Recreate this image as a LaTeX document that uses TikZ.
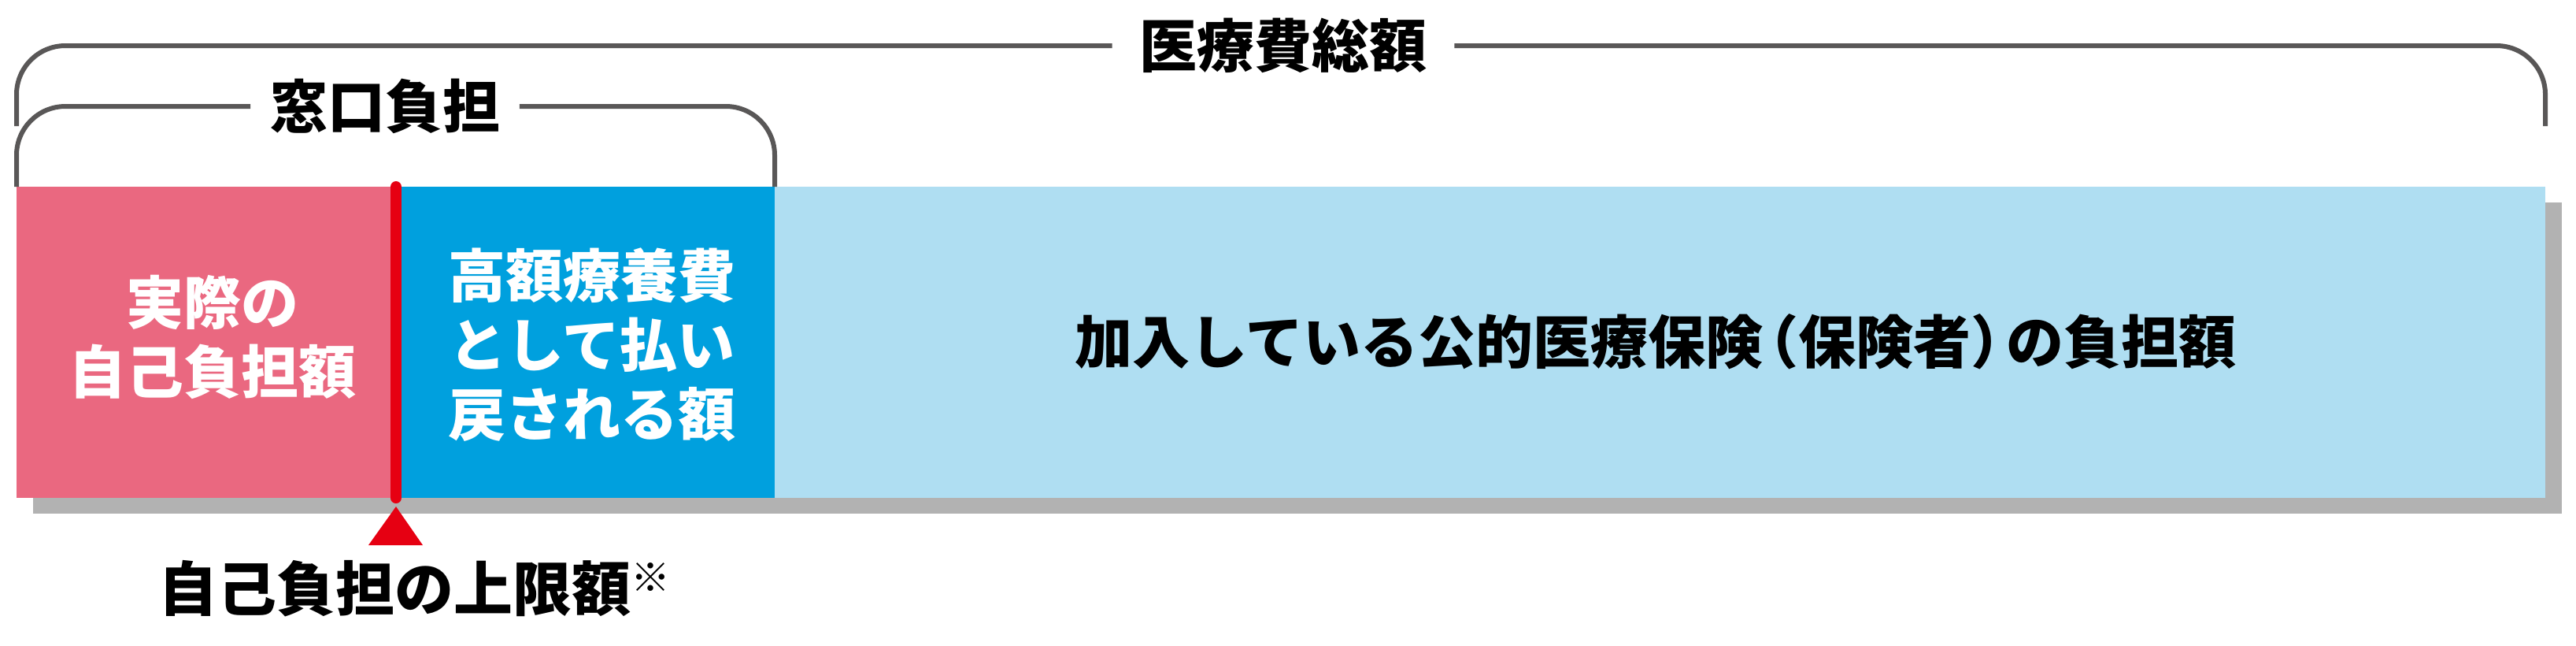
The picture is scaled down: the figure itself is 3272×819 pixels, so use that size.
\documentclass[tikz,border=0pt]{standalone}
\usepackage{fontspec}
\setmainfont{Noto Sans CJK JP}
\definecolor{pinkc}{RGB}{234,104,128}
\definecolor{bluec}{RGB}{0,160,222}
\definecolor{lbluec}{RGB}{175,222,242}
\definecolor{shadowgray}{RGB}{178,178,178}
\definecolor{redc}{RGB}{230,0,18}
\definecolor{brkgray}{RGB}{89,87,87}
\newcommand{\lpar}{\makebox[0.62em][r]{（}}
\newcommand{\rpar}{\makebox[0.62em][l]{）}}
\begin{document}
\begin{tikzpicture}[x=0.25pt,y=-0.25pt,
  brk/.style={draw=brkgray,line width=1.5pt,rounded corners=15.5pt},
  jtxt/.style={font=\bfseries\fontsize{18.25pt}{22pt}\selectfont,inner ysep=0pt,align=center},
  ttl/.style={jtxt,text=black},
  wtxt/.style={jtxt,text=white,inner xsep=0pt},
  bar/.style={anchor=north west,inner sep=0pt,outer sep=0pt,minimum height=98.75pt}]
\useasboundingbox (0,0) rectangle (3272,819);
% shadow
\fill[shadowgray] (42,257) rectangle (3254,652);
% bars
\node[bar,fill=pinkc,minimum width=120.5pt] (self) at (21,237) {};
\node[bar,fill=bluec,minimum width=120.25pt] (refund) at (503,237) {};
\node[bar,fill=lbluec,minimum width=562.25pt] (insurer) at (984,237) {};
% texts in bars
\node[wtxt] (selftxt) at (270,428) {実際の\\自己負担額};
\node[wtxt] (refundtxt) at (752,438) {高額療養費\\として払い\\戻される額};
\node[ttl,inner xsep=0pt] (insurertxt) at (2103,434) {加入している公的医療保険\lpar 保険者\rpar の負担額};
% limit marker
\draw[redc,line width=3.5pt,line cap=round] (self.north east) -- (self.south east);
\fill[redc] (503,643) -- (537,692) -- (468,692) -- cycle;
\node[ttl,inner xsep=0pt,font=\bfseries\fontsize{18.75pt}{22pt}\selectfont] (limit) at (526,747) {自己負担の上限額\raisebox{6pt}{\fontsize{12.5pt}{12.5pt}\selectfont ※}};
% outer bracket
\node[ttl,inner xsep=8.5pt] (total) at (1630,58) {医療費総額};
\coordinate (oL) at (21,160);
\coordinate (oR) at (3233,160);
\draw[brk] (oL) |- (total.west);
\draw[brk] (total.east) -| (oR);
% inner bracket
\node[ttl,inner xsep=6pt] (window) at (489,135) {窓口負担};
\draw[brk] (self.north west) |- (window.west);
\draw[brk] (window.east) -| (refund.north east);
\end{tikzpicture}
\end{document}
